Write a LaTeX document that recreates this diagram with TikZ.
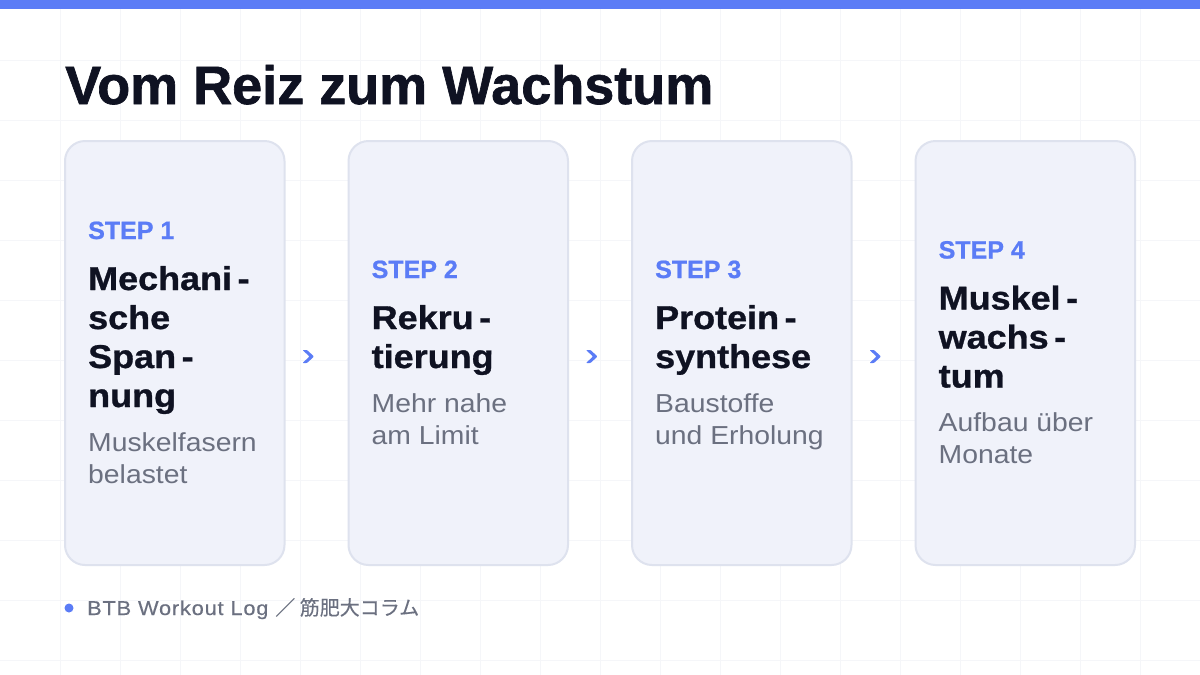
\documentclass[tikz,border=0pt]{standalone}
\usepackage{fontspec}
\setmainfont{Liberation Sans}
\newfontfamily\headfont[FakeBold=1.2]{Liberation Sans}
\newfontfamily\stepfont[FakeBold=0.8]{Liberation Sans}
\newfontfamily\ttlfont[FakeStretch=1.09,FakeBold=0.9]{Liberation Sans}
\newfontfamily\widefont[FakeStretch=1.09]{Liberation Sans}
\newfontfamily\footfont[FakeStretch=1.09,LetterSpace=4,FakeBold=0.3]{Liberation Sans}
\newfontfamily\cjk[FakeBold=0.3]{Noto Sans CJK JP}
\usetikzlibrary{calc}
\definecolor{accent}{HTML}{5B7CF6}
\definecolor{ink}{HTML}{0F1222}
\definecolor{muted}{HTML}{6B7080}
\definecolor{cardfill}{HTML}{F0F2FA}
\definecolor{cardline}{HTML}{DEE2EE}
\definecolor{gridcol}{HTML}{F5F6F9}
\tikzset{
  card/.style={draw=cardline, line width=2pt, fill=cardfill, rounded corners=20pt,
    minimum width=219.5pt, minimum height=424pt, inner sep=0pt},
  steplbl/.style={anchor=base west, inner sep=0pt, text=accent,
    font=\stepfont\fontsize{25}{30}\selectfont\bfseries},
  ttl/.style={anchor=base west, inner sep=0pt, text=ink,
    font=\ttlfont\fontsize{33}{39}\selectfont\bfseries},
  sub/.style={anchor=base west, inner sep=0pt, text=muted,
    font=\widefont\fontsize{26}{32}\selectfont},
  chev/.style={fill=accent},
}
\begin{document}
\begin{tikzpicture}[x=1pt,y=-1pt]
\useasboundingbox (0,0) rectangle (1200,675);
\fill[white] (0,0) rectangle (1200,675);
% grid
\foreach \x in {60,120,...,1140} \draw[gridcol, line width=1pt] (\x,9) -- (\x,675);
\foreach \y in {60,120,...,660} \draw[gridcol, line width=1pt] (0,\y) -- (1200,\y);
% top bar
\fill[accent] (0,0) rectangle (1200,9);
% title
\node[anchor=base west, inner sep=0pt, text=ink, font=\headfont\fontsize{54}{60}\selectfont\bfseries] (title) at (65,104) {Vom Reiz zum Wachstum};
% cards
\node[card] (c1) at (174.75,353) {};
\node[card] (c2) at (458.25,353) {};
\node[card] (c3) at (741.75,353) {};
\node[card] (c4) at (1025.25,353) {};
% card 1
\node[steplbl] (s1) at ($(c1.north west)+(24,99)$) {STEP 1};
\node[ttl] (t1a) at ($(c1.north west)+(24,150)$) {Mechani\,-};
\node[ttl] (t1b) at ($(c1.north west)+(24,189)$) {sche};
\node[ttl] (t1c) at ($(c1.north west)+(24,228)$) {Span\,-};
\node[ttl] (t1d) at ($(c1.north west)+(24,267)$) {nung};
\node[sub] (d1a) at ($(c1.north west)+(24,311)$) {Muskelfasern};
\node[sub] (d1b) at ($(c1.north west)+(24,343)$) {belastet};
% card 2
\node[steplbl] (s2) at ($(c2.north west)+(24,138)$) {STEP 2};
\node[ttl] (t2a) at ($(c2.north west)+(24,189)$) {Rekru\,-};
\node[ttl] (t2b) at ($(c2.north west)+(24,228)$) {tierung};
\node[sub] (d2a) at ($(c2.north west)+(24,272)$) {Mehr nahe};
\node[sub] (d2b) at ($(c2.north west)+(24,304)$) {am Limit};
% card 3
\node[steplbl] (s3) at ($(c3.north west)+(24,138)$) {STEP 3};
\node[ttl] (t3a) at ($(c3.north west)+(24,189)$) {Protein\,-};
\node[ttl] (t3b) at ($(c3.north west)+(24,228)$) {synthese};
\node[sub] (d3a) at ($(c3.north west)+(24,272)$) {Baustoffe};
\node[sub] (d3b) at ($(c3.north west)+(24,304)$) {und Erholung};
% card 4
\node[steplbl] (s4) at ($(c4.north west)+(24,118.5)$) {STEP 4};
\node[ttl] (t4a) at ($(c4.north west)+(24,169.5)$) {Muskel\,-};
\node[ttl] (t4b) at ($(c4.north west)+(24,208.5)$) {wachs\,-};
\node[ttl] (t4c) at ($(c4.north west)+(24,247.5)$) {tum};
\node[sub] (d4a) at ($(c4.north west)+(24,291.5)$) {Aufbau über};
\node[sub] (d4b) at ($(c4.north west)+(24,323.5)$) {Monate};
% chevrons between cards
\foreach \a/\b [count=\i] in {c1/c2,c2/c3,c3/c4} {
  \coordinate (ar\i) at ($(\a.east)+(22.5,3.5)$);
  \fill[chev, rounded corners=0.8pt] ($(ar\i)+(-5.5,-6.5)$) -- ++(4.5,0) -- ++(7,6.5) -- ++(-7,6.5) -- ++(-4.5,0) -- ++(7,-6.5) -- cycle;
}
% footer
\fill[accent] (69,608) circle (4.5);
\node[anchor=base west, inner sep=0pt, text=muted, font=\fontsize{20}{24}\selectfont] (foot) at (87,615) {\footfont BTB Workout Log {\cjk ／ 筋肥大コラム}};
\end{tikzpicture}
\end{document}
